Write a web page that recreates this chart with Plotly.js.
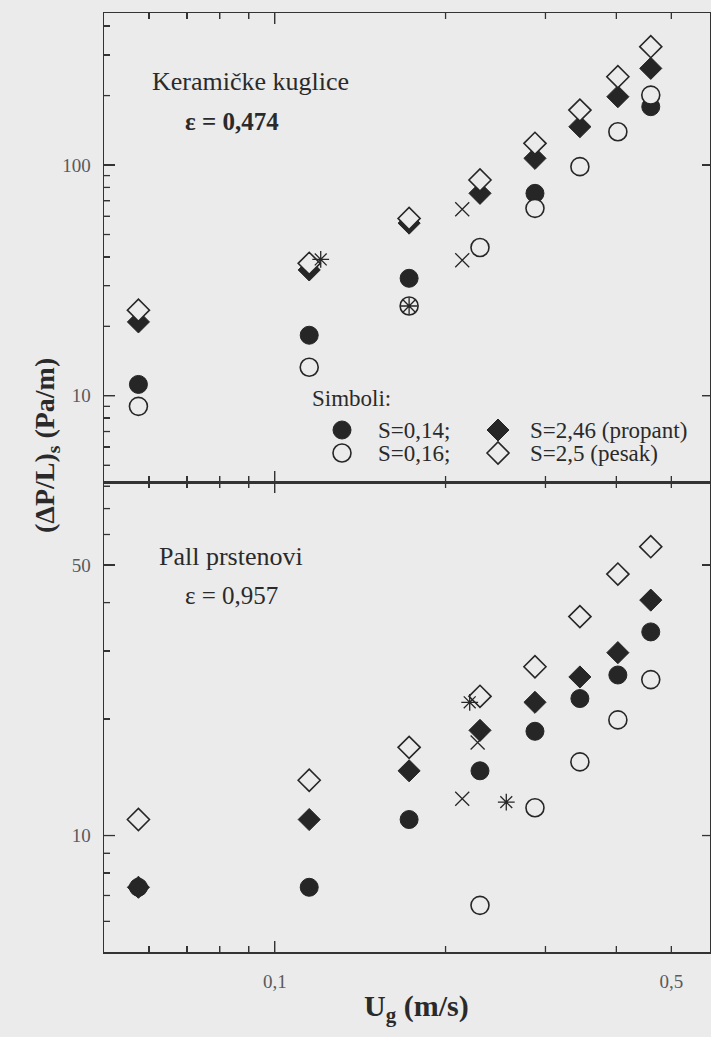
<!DOCTYPE html>
<html>
<head>
<meta charset="utf-8">
<script src="https://cdn.plot.ly/plotly-3.0.1.min.js"></script>
<style>
  html, body { margin: 0; padding: 0; background: #ebebeb; }
  #chart { width: 711px; height: 1037px; }
</style>
</head>
<body>
<div id="chart"></div>
<script>
// Superficial gas velocity U_g (m/s), common to both beds
const ug = [0.0575, 0.115, 0.1725, 0.23, 0.2875, 0.345, 0.4025, 0.46];

// Ceramic spheres (eps = 0,474): (dP/L)_s in Pa/m
const kerS014 = [11.2, 18.3, 32.3, null, 75.4, null, null, 179];
const kerS016 = [9.0, 13.3, 24.5, 43.9, 64.9, 98.4, 139.4, 201];
const kerS246 = [20.9, 35.1, 56, 75.4, 106.9, 146.6, 197.8, 262.4];
const kerS25  = [23.5, 37.5, 58.7, 86.1, 124.2, 173, 241.4, 325.8];
const kerCrossU = [0.214, 0.214];
const kerCrossP = [64.3, 38.7];
const kerStarU = [0.1205, 0.1725];
const kerStarP = [39.0, 24.5];

// Pall rings (eps = 0,957)
const pallS014 = [7.35, 7.35, 11.0, 14.7, 18.6, 22.6, 26.0, 33.6];
const pallS016 = [null, null, null, 6.6, 11.8, 15.5, 19.9, 25.3];
const pallS246 = [7.35, 11.0, 14.7, 18.7, 22.1, 25.7, 29.7, 40.6];
const pallS25  = [11.0, 13.9, 16.9, 22.9, 27.3, 36.8, 47.4, 55.8];
const pallCrossU = [0.214, 0.2278];
const pallCrossP = [12.45, 17.4];
const pallStarU = [0.2206, 0.2559];
const pallStarP = [22.1, 12.2];

// Axis ticks
const xMajor = [0.1];
const xLabelVals = [0.1, 0.5];
const xLabelText = ['0,1', '0,5'];
const xMinor = [0.06, 0.07, 0.08, 0.09, 0.2, 0.3, 0.4];
const yTopMajor = [10, 100];
const yTopMinor = [5, 6, 7, 8, 9, 20, 30, 40, 50, 60, 70, 80, 90, 200, 300, 400];
const yBotMajor = [10, 50];
const yBotMinor = [6, 7, 8, 9, 20, 30, 40, 60, 70, 80];

// Legend entries
const legendLabels = ['S=0,14;', 'S=0,16;', 'S=2,46 (propant)', 'S=2,5 (pesak)'];

const BG = '#ebebeb';
const INK = '#262626';
const AXC = '#333333';
const SERIF = '"Liberation Serif", "Times New Roman", serif';

// Plot frame in pixels
const L = 104, R = 710, T = 13, B = 952, MID = 482;
const px = x => (x - L) / (R - L);
const py = y => (B - y) / (B - T);
const split = py(MID);

const xRange = [Math.log10(0.05), Math.log10(0.585)];
const yBotRange = [Math.log10(5), Math.log10(82)];
const yTopRange = [Math.log10(4.23), Math.log10(456)];
// log units per pixel, used to keep tick marks inside the frame
const xPer = (xRange[1] - xRange[0]) / (R - L);
const yBotPer = (yBotRange[1] - yBotRange[0]) / (B - MID);
const yTopPer = (yTopRange[1] - yTopRange[0]) / (MID - T);

function series(x, y, symbol, size, filled, xa, ya) {
  return {
    x: x, y: y, xaxis: xa, yaxis: ya, type: 'scatter', mode: 'markers',
    showlegend: false, hoverinfo: 'skip',
    marker: {
      symbol: symbol, size: size,
      color: filled ? INK : BG,
      line: { color: INK, width: filled ? 1 : 1.6 }
    }
  };
}
function thin(x, y, symbol, xa, ya) {
  return {
    x: x, y: y, xaxis: xa, yaxis: ya, type: 'scatter', mode: 'markers',
    showlegend: false, hoverinfo: 'skip',
    marker: { symbol: symbol, size: 14, color: INK, line: { color: INK, width: 1.3 } }
  };
}
// invisible carrier traces so the tick-only overlay axes get drawn
function carrier(x, y, xa, ya) {
  return { x: x, y: y, xaxis: xa, yaxis: ya, type: 'scatter', mode: 'markers',
    showlegend: false, hoverinfo: 'skip', marker: { opacity: 0, size: 1 } };
}
// inward tick marks along a horizontal edge (at x = tick values)
function vTicks(vals, len, yLog, xa, ya) {
  return {
    x: vals, y: vals.map(() => Math.pow(10, yLog)), xaxis: xa, yaxis: ya,
    type: 'scatter', mode: 'markers', showlegend: false, hoverinfo: 'skip', cliponaxis: false,
    marker: { symbol: 'line-ns-open', size: len / 1.4, color: AXC, line: { color: AXC, width: 1.3 } }
  };
}
// inward tick marks along a vertical edge (at y = tick values)
function hTicks(vals, len, xLog, xa, ya) {
  return {
    x: vals.map(() => Math.pow(10, xLog)), y: vals, xaxis: xa, yaxis: ya,
    type: 'scatter', mode: 'markers', showlegend: false, hoverinfo: 'skip', cliponaxis: false,
    marker: { symbol: 'line-ew-open', size: len / 1.4, color: AXC, line: { color: AXC, width: 1.3 } }
  };
}
function frameTicks(yMinor, yMajor, yRange, yPer, xa, ya) {
  const xShort = xMinor.concat([0.5]);
  return [
    vTicks(xShort, 6, yRange[0] + 3 * yPer, xa, ya),
    vTicks(xMajor, 11, yRange[0] + 5.5 * yPer, xa, ya),
    vTicks(xShort, 6, yRange[1] - 3 * yPer, xa, ya),
    vTicks(xMajor, 11, yRange[1] - 5.5 * yPer, xa, ya),
    hTicks(yMinor, 6, xRange[0] + 3 * xPer, xa, ya),
    hTicks(yMajor, 11, xRange[0] + 5.5 * xPer, xa, ya),
    hTicks(yMajor, 8, xRange[1] - 4 * xPer, xa, ya)
  ];
}

const traces = [
  carrier(ug, pallS25, 'x3', 'y3'),
  carrier(ug, pallS25, 'x5', 'y5'),
  carrier(ug, kerS25, 'x4', 'y4'),
  carrier(ug, kerS25, 'x6', 'y6'),
  // ceramic spheres (upper panel)
  series(ug, kerS014, 'circle', 18, true, 'x2', 'y2'),
  series(ug, kerS016, 'circle', 18, false, 'x2', 'y2'),
  series(ug, kerS246, 'diamond', 17, true, 'x2', 'y2'),
  series(ug, kerS25, 'diamond', 17, false, 'x2', 'y2'),
  thin(kerCrossU, kerCrossP, 'x-thin-open', 'x2', 'y2'),
  thin(kerStarU, kerStarP, 'asterisk-open', 'x2', 'y2'),
  // Pall rings (lower panel)
  series(ug, pallS014, 'circle', 18, true, 'x', 'y'),
  series(ug, pallS016, 'circle', 18, false, 'x', 'y'),
  series(ug, pallS246, 'diamond', 17, true, 'x', 'y'),
  series(ug, pallS25, 'diamond', 17, false, 'x', 'y'),
  thin(pallCrossU, pallCrossP, 'x-thin-open', 'x', 'y'),
  thin(pallStarU, pallStarP, 'asterisk-open', 'x', 'y')
].concat(
  frameTicks(yBotMinor, yBotMajor, yBotRange, yBotPer, 'x', 'y'),
  frameTicks(yTopMinor, yTopMajor, yTopRange, yTopPer, 'x2', 'y2')
);

const tickFont = { family: SERIF, size: 19, color: '#5a5a5a' };

// Short ticks everywhere on the main axes; labels only where given
function tickSet(labelVals, labelText, minorVals) {
  return {
    tickvals: labelVals.concat(minorVals),
    ticktext: labelText.concat(minorVals.map(() => ''))
  };
}
function mainAxis(extra) {
  return Object.assign({
    type: 'log', showgrid: false, zeroline: false,
    showline: true, linecolor: AXC, linewidth: 1.5,
    ticks: 'inside', ticklen: 6, tickwidth: 1.3, tickcolor: AXC,
    tickfont: tickFont, tickmode: 'array'
  }, extra);
}
// Tick-only overlay axis (longer ticks at the decades)
function tickAxis(extra) {
  return Object.assign({
    type: 'log', showgrid: false, zeroline: false, showline: false,
    ticks: 'inside', ticklen: 11, tickwidth: 1.3, tickcolor: AXC,
    showticklabels: false, tickmode: 'array'
  }, extra);
}

const shapes = [];
const ann = [];
function text(t, x, y, size, opts) {
  ann.push(Object.assign({
    text: t, xref: 'paper', yref: 'paper', x: px(x), y: py(y),
    xanchor: 'left', yanchor: 'middle', showarrow: false,
    font: { family: SERIF, size: size, color: '#2a2a2a' }
  }, opts || {}));
}
// legend key drawn at a fixed pixel size around an anchor point
function key(kind, filled, x, y) {
  const base = {
    xref: 'paper', yref: 'paper', xsizemode: 'pixel', ysizemode: 'pixel',
    xanchor: px(x), yanchor: py(y),
    fillcolor: filled ? INK : BG, line: { color: INK, width: filled ? 1 : 1.6 }
  };
  if (kind === 'circle') {
    shapes.push(Object.assign(base, { type: 'circle', x0: -9, x1: 9, y0: -9, y1: 9 }));
  } else {
    shapes.push(Object.assign(base, { type: 'path', path: 'M -11 0 L 0 11 L 11 0 L 0 -11 Z' }));
  }
}

text('Keramičke kuglice', 150, 82, 26);
text('<b>ε = 0,474</b>', 183, 121, 25);
text('Pall prstenovi', 157, 556, 26);
text('ε = 0,957', 183, 595, 25);
text('Simboli:', 310, 398, 23);
key('circle', true, 342, 430);
key('circle', false, 342, 453);
key('diamond', true, 498, 430);
key('diamond', false, 498, 453);
text(legendLabels[0], 376, 430, 23);
text(legendLabels[1], 376, 453, 23);
text(legendLabels[2], 528, 430, 23);
text(legendLabels[3], 528, 453, 23);
// axis titles
text('<b>(ΔP/L)<sub>s</sub> (Pa/m)</b>', 46, 445, 28, { xanchor: 'center', textangle: -90 });
text('<b>U<sub>g</sub> (m/s)</b>', 416, 1008, 30, { xanchor: 'center' });

const xTicks = tickSet(xLabelVals, xLabelText, xMinor);
const yBotTicks = tickSet(yBotMajor, yBotMajor.map(String), yBotMinor);
const yTopTicks = tickSet(yTopMajor, yTopMajor.map(String), yTopMinor);

const layout = {
  width: 711, height: 1037,
  margin: { l: L, r: 711 - R, t: T, b: 1037 - B, pad: 0 },
  paper_bgcolor: BG, plot_bgcolor: BG,
  showlegend: false,
  xaxis: mainAxis(Object.assign({ anchor: 'y', domain: [0, 1], range: xRange, mirror: 'ticks', ticklabelstandoff: 12 }, xTicks)),
  xaxis2: mainAxis(Object.assign({ anchor: 'y2', domain: [0, 1], range: xRange, mirror: 'ticks', showticklabels: false }, xTicks)),
  yaxis: mainAxis(Object.assign({ anchor: 'x', domain: [0, split], range: yBotRange, mirror: true, ticklabelstandoff: 8 }, yBotTicks)),
  yaxis2: mainAxis(Object.assign({ anchor: 'x2', domain: [split, 1], range: yTopRange, mirror: true, ticklabelstandoff: 8 }, yTopTicks)),
  xaxis3: tickAxis({ overlaying: 'x', anchor: 'y', side: 'bottom', range: xRange, tickvals: xMajor }),
  xaxis5: tickAxis({ overlaying: 'x', anchor: 'y', side: 'top', range: xRange, tickvals: xMajor }),
  xaxis4: tickAxis({ overlaying: 'x2', anchor: 'y2', side: 'bottom', range: xRange, tickvals: xMajor }),
  xaxis6: tickAxis({ overlaying: 'x2', anchor: 'y2', side: 'top', range: xRange, tickvals: xMajor }),
  yaxis3: tickAxis({ overlaying: 'y', anchor: 'x', side: 'left', range: yBotRange, tickvals: yBotMajor }),
  yaxis5: tickAxis({ overlaying: 'y', anchor: 'x', side: 'right', range: yBotRange, tickvals: yBotMajor, ticklen: 8 }),
  yaxis4: tickAxis({ overlaying: 'y2', anchor: 'x2', side: 'left', range: yTopRange, tickvals: yTopMajor }),
  yaxis6: tickAxis({ overlaying: 'y2', anchor: 'x2', side: 'right', range: yTopRange, tickvals: yTopMajor, ticklen: 8 }),
  shapes: shapes,
  annotations: ann
};

Plotly.newPlot('chart', traces, layout, { staticPlot: true, displayModeBar: false });
</script>
</body>
</html>
